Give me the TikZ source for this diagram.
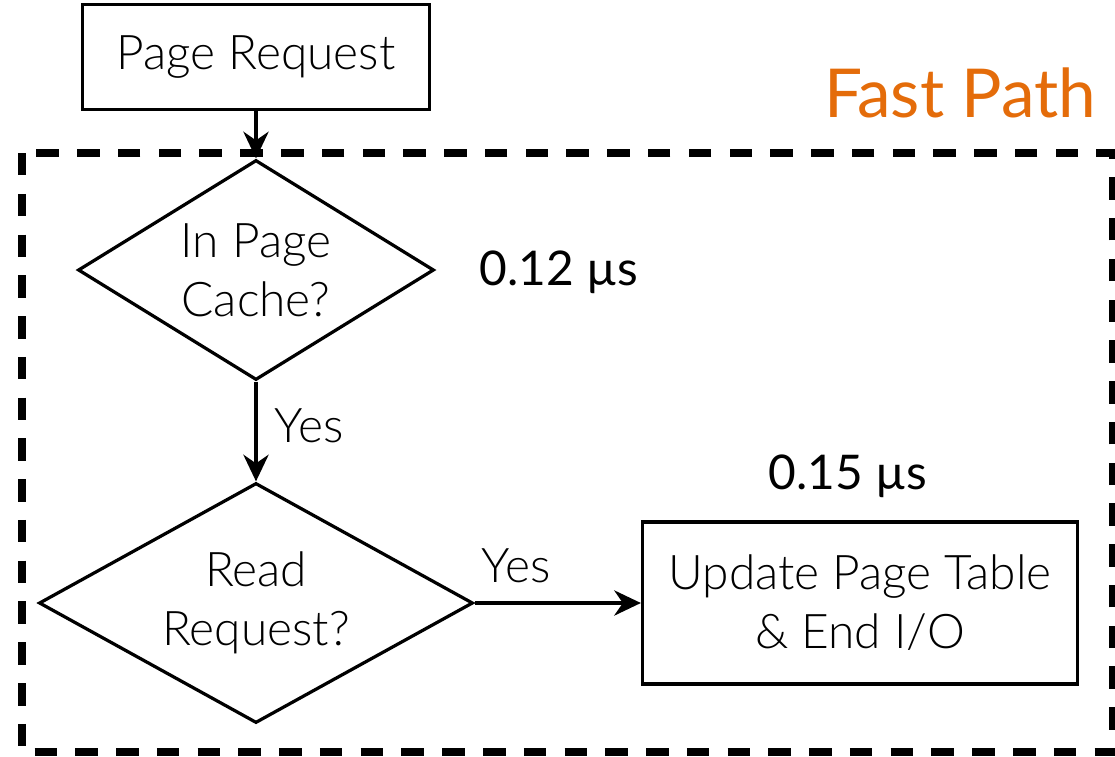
\documentclass[tikz,border=0pt]{standalone}
\usepackage{fontspec}
\setmainfont{Lato Light}
\newfontfamily\headfont{Lato}
\usetikzlibrary{arrows.meta, positioning, shapes.geometric}
\definecolor{pathorange}{HTML}{E46C0A}

\begin{document}
\begin{tikzpicture}[
    font=\fontsize{34}{42}\selectfont,
    stepbox/.style={draw, line width=2.3pt, align=center, inner sep=0pt},
    decision/.style={diamond, draw, line width=2.3pt, align=center, inner sep=0pt},
    timing/.style={font=\headfont\fontsize{34}{42}\selectfont},
    flow/.style={line width=2.3pt, -{Stealth[length=19pt, width=18pt]}}]
  \useasboundingbox (0,0) rectangle (27.875,-18.9);
  % fast path frame
  \draw[line width=5pt, dash pattern=on 16pt off 13pt] (0.55,-3.825) rectangle (27.825,-18.8);
  \node[text=pathorange, font=\headfont\fontsize{48}{56}\selectfont] (fast) at (24,-2.325) {Fast Path};
  % steps
  \node[stepbox, minimum width=8.675cm, minimum height=2.625cm] (req) at (6.4,-1.425) {Page Request};
  \node[decision, aspect=1.62, minimum width=8.9cm, minimum height=5.5cm] (cache) at (6.4,-6.75) {In Page\\Cache?};
  \node[decision, aspect=1.81, minimum width=10.85cm, minimum height=6.0cm] (read) at (6.4,-15.075) {Read\\Request?};
  \node[stepbox, minimum width=10.875cm, minimum height=4.05cm] (upd) at (21.5,-15.075) {Update Page Table\\\& End I/O};
  % timings
  \node[timing] (t1) at (13.975,-6.8) {0.12 µs};
  \node[timing] (t2) at (21.2,-11.9) {0.15 µs};
  % connectors
  \draw[flow] (req) -- (cache);
  \draw[flow] (cache) -- node[right=9pt, yshift=4pt] (yes1) {Yes} (read);
  \draw[flow] (read) -- node[pos=0.25, above=10pt] (yes2) {Yes} (upd);
\end{tikzpicture}
\end{document}
